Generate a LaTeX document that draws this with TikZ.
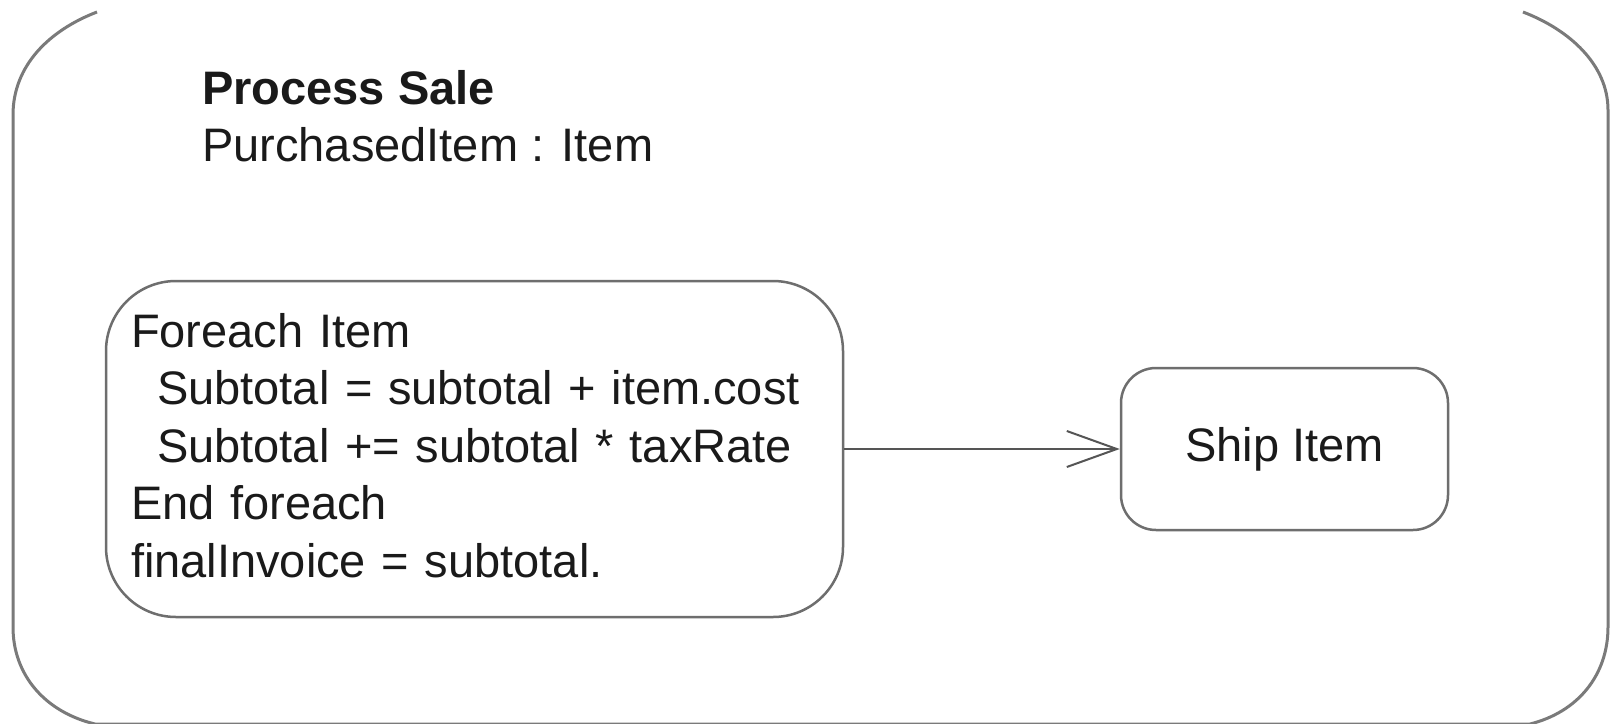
\documentclass[tikz,border=0pt]{standalone}
\usepackage{fontspec}
\setmainfont{Liberation Sans}
\usetikzlibrary{arrows.meta}
\definecolor{framegray}{HTML}{7A7A7A}
\definecolor{boxgray}{HTML}{6E6E6E}
\definecolor{arrowgray}{HTML}{555555}
\definecolor{inkcol}{HTML}{1A1A1A}
\tikzset{
  framestyle/.style={draw=framegray, line width=3pt},
  statebox/.style={draw=boxgray, line width=2.5pt, fill=white, text=inkcol,
    font=\fontsize{47pt}{57.5pt}\selectfont},
  labeltext/.style={text=inkcol, inner sep=0pt,
    font=\fontsize{47pt}{57.5pt}\selectfont},
  flow/.style={draw=arrowgray, line width=2pt,
    -{Straight Barb[length=50pt,width=36pt,line width=2pt]}}
}
\begin{document}
\begin{tikzpicture}[x=1pt,y=-1pt]
\useasboundingbox (0,0) rectangle (1612,723);
\fill[white] (0,0) rectangle (1612,723);
% outer activity frame (top edge not shown)
\coordinate (tl) at (97,12);
\coordinate (tr) at (1523,12);
\draw[framestyle] (tl) .. controls (50,30) and (13,65) .. (13,115)
  -- (13,627) .. controls (13,675) and (45,712) .. (95,724)
  -- (1530,724) .. controls (1578,712) and (1608,675) .. (1608,627)
  -- (1608,110) .. controls (1608,65) and (1570,30) .. (tr);
% title
\node[labeltext, anchor=base west, font=\fontsize{47pt}{57.5pt}\selectfont\bfseries] (title) at (202,104) {Process Sale};
\node[labeltext, anchor=base west] (param) at (202,161) {PurchasedItem : Item};
% states
\node[statebox, rounded corners=70pt, minimum width=737pt, minimum height=336pt,
      align=left, text width=687pt, inner xsep=25pt, inner ysep=0pt] (loop) at (474.5,449)
  {Foreach Item\\
   \hspace*{26pt}Subtotal = subtotal + item.cost\\
   \hspace*{26pt}Subtotal += subtotal * taxRate\\
   End foreach\\
   finalInvoice = subtotal.\rule[-8pt]{0pt}{0pt}};
\node[statebox, rounded corners=35pt, minimum width=327pt, minimum height=162pt] (ship) at (1284.5,449)
  {Ship Item};
\draw[flow] (loop.east) -- (ship.west);
\end{tikzpicture}
\end{document}
